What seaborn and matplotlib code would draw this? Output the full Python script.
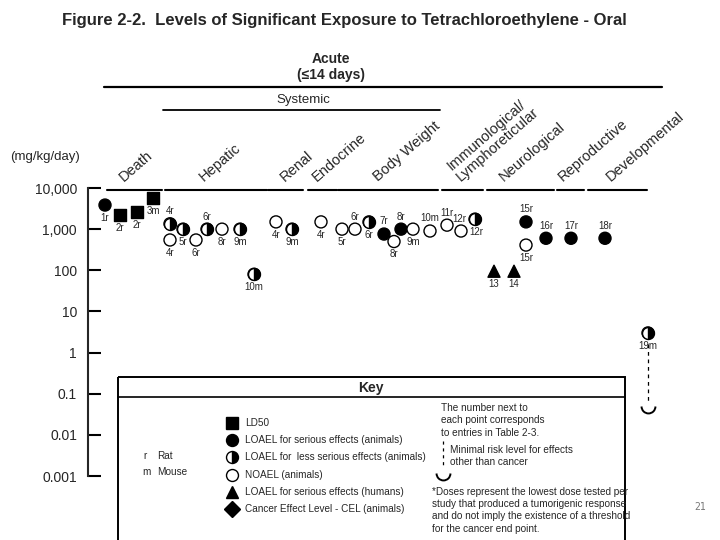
import numpy as np
import pandas as pd
import matplotlib
matplotlib.use("Agg")
import matplotlib.pyplot as plt
import matplotlib.transforms as mtransforms
from matplotlib.path import Path
from matplotlib.patches import Rectangle
import seaborn as sns

# ---- data ----
systems = ["Death", "Hepatic", "Renal", "Endocrine", "Body Weight",
           "Immunological/\nLymphoreticular", "Neurological", "Reproductive", "Developmental"]

point_system = ["Death"] * 4 + ["Hepatic"] * 8 + ["Renal"] * 2 + ["Endocrine"] + \
               ["Body Weight"] * 8 + ["Immunological/\nLymphoreticular"] * 3 + \
               ["Neurological"] * 5 + ["Reproductive"] + ["Developmental"] * 2
study = ["1r", "2r", "2r", "3m",
         "4r", "4r", "5r", "6r", "6r", "8r", "9m", "10m",
         "4r", "9m",
         "4r",
         "5r", "6r", "6r", "7r", "8r", "8r", "9m", "10m",
         "11r", "12r", "12r",
         "13", "14", "15r", "15r", "16r",
         "17r",
         "18r", "19m"]
effect = ["serious", "LD50", "LD50", "LD50",
          "less", "NOAEL", "less", "NOAEL", "less", "NOAEL", "less", "less",
          "NOAEL", "less",
          "NOAEL",
          "NOAEL", "NOAEL", "less", "serious", "NOAEL", "serious", "NOAEL", "NOAEL",
          "NOAEL", "NOAEL", "less",
          "human", "human", "serious", "NOAEL", "serious",
          "serious",
          "serious", "less"]
dose = [3850, 2200, 2600, 5700,
        1350, 545, 1000, 545, 1000, 1000, 1000, 80,
        1500, 1000,
        1500,
        1000, 1000, 1500, 760, 500, 1000, 1000, 900,
        1250, 900, 1750,
        95, 95, 1500, 410, 600,
        600,
        600, 3]
mrl_dose = 0.05
y_ticks = [0.001, 0.01, 0.1, 1, 10, 100, 1000, 10000]
y_ticklabels = ["0.001", "0.01", "0.1", "1", "10", "100", "1,000", "10,000"]

# ---- layout (column slots, 1 slot = 10 px, label placement) ----
slot = [1.7, 3.2, 4.9, 6.5,
        8.2, 8.2, 9.5, 10.8, 11.9, 13.4, 15.2, 16.6,
        18.8, 20.4,
        23.3,
        25.4, 26.7, 28.1, 29.6, 30.6, 31.3, 32.5, 34.2,
        35.9, 37.3, 38.7,
        40.6, 42.6, 43.8, 43.8, 45.8,
        48.3,
        51.7, 56.0]
label_pos = ["b", "b", "b", "b",
             "t", "b", "b", "b", "t", "b", "b", "b",
             "b", "b",
             "b",
             "b", "t", "b", "t", "b", "t", "b", "t",
             "t", "r", "l",
             "b", "b", "t", "b", "t",
             "t",
             "t", "b"]
sys_span = {"Death": (1.9, 7.4), "Hepatic": (7.7, 17.9), "Renal": (18.0, 21.5),
            "Endocrine": (22.0, 24.9), "Body Weight": (25.0, 35.0),
            "Immunological/\nLymphoreticular": (35.4, 39.5), "Neurological": (39.9, 46.6),
            "Reproductive": (46.9, 49.6), "Developmental": (50.0, 55.9)}
sys_label_x = {"Death": 126, "Hepatic": 206, "Renal": 287, "Endocrine": 319,
               "Body Weight": 380, "Immunological/\nLymphoreticular": 463,
               "Neurological": 506, "Reproductive": 565, "Developmental": 613}

df = pd.DataFrame({"system": point_system, "study": study, "effect": effect,
                   "dose": dose, "x": slot, "lab": label_pos})

sns.set_style("white")
plt.rcParams["font.family"] = ["Liberation Sans", "DejaVu Sans"]

W, H = 720, 540
fig = plt.figure(figsize=(7.2, 5.4), dpi=100)
ax = fig.add_axes([88 / W, 1 - 476 / H, (720 - 88) / W, (476 - 188) / H])
ax.set_yscale("log")
ax.set_ylim(1e-3, 1e4)
ax.set_xlim(0, 63.2)

face = {"LD50": "black", "serious": "black", "less": "white", "NOAEL": "white",
        "human": "black", "CEL": "black"}
shape = {"LD50": "s", "serious": "o", "less": "o", "NOAEL": "o", "human": "^", "CEL": "D"}
sns.scatterplot(data=df, x="x", y="dose", hue="effect", style="effect",
                palette=face, markers=shape, s=75, edgecolor="black", linewidth=1,
                legend=False, ax=ax, clip_on=False, zorder=3)
half = df[df.effect == "less"]
ax.plot(half.x, half.dose, linestyle="none", marker="o", ms=8.6, fillstyle="right",
        mfc="black", mfcalt="white", mec="black", mew=1, zorder=4, clip_on=False)

offs = {"t": ((0, 5.5), "center", "bottom"), "b": ((0, -5.5), "center", "top"),
        "r": ((6, -1), "left", "center"), "l": ((-6, 0), "right", "center")}
for _, r in df.iterrows():
    (dx, dy), ha, va = offs[r.lab]
    ax.annotate(r.study, (r.x, r.dose), xytext=(dx, dy), textcoords="offset points",
                ha=ha, va=va, fontsize=7)

# MRL dashed line + cup
mrl_x = df.x.iloc[-1]
ax.plot([mrl_x, mrl_x], [1.6, mrl_dose * 1.25], color="black", lw=0.9,
        linestyle=(0, (3, 3)), zorder=2)
ax.plot([mrl_x], [mrl_dose], marker=Path.arc(180, 360), ms=10, mfc="none",
        mec="black", mew=1.4, linestyle="none")

# axes styling
for s in ["top", "right", "bottom"]:
    ax.spines[s].set_visible(False)
ax.spines["left"].set_linewidth(1.5)
ax.set_yticks(y_ticks)
ax.set_yticklabels(y_ticklabels)
ax.yaxis.set_minor_locator(matplotlib.ticker.NullLocator())
ax.tick_params(axis="y", left=True, direction="in", length=9, width=1.5,
               labelsize=10, pad=8, color="black")
ax.set_xticks([])
ax.set_xlabel("")
ax.set_ylabel("")

# category header lines and rotated labels
bt = mtransforms.blended_transform_factory(ax.transData, fig.transFigure)
for name in systems:
    x0, x1 = sys_span[name]
    ax.plot([x0, x1], [1 - 190 / H] * 2, color="black", lw=1.5, transform=bt, clip_on=False)
    fig.text(sys_label_x[name] / W, 1 - 184 / H, name, rotation=41, rotation_mode="anchor",
             ha="left", va="bottom", fontsize=10.5, linespacing=1.0)

# overlay axes in pixel coords for headings and key
k = fig.add_axes([0, 0, 1, 1])
k.set_xlim(0, W)
k.set_ylim(H, 0)
k.axis("off")
k.patch.set_alpha(0)

k.text(62, 20, "Figure 2-2.  Levels of Significant Exposure to Tetrachloroethylene - Oral",
       fontsize=12, fontweight="bold", ha="left", va="center")
k.text(331, 59, "Acute", fontsize=10, fontweight="bold", ha="center", va="center")
k.text(331, 75, "(\u226414 days)", fontsize=10, fontweight="bold", ha="center", va="center")
k.plot([104, 662], [87, 87], color="black", lw=1.6)
k.text(303, 100, "Systemic", fontsize=9.5, ha="center", va="center")
k.plot([163, 440], [110, 110], color="black", lw=1.3)
k.text(10, 157, "(mg/kg/day)", fontsize=9.5, ha="left", va="center")

# key box
k.add_patch(Rectangle((118, 377), 625 - 118, 200, fill=False, lw=1.4, ec="black"))
k.plot([118, 625], [397, 397], color="black", lw=1.2)
k.text(371, 388, "Key", fontsize=10, fontweight="bold", ha="center", va="center")

key_rows = [("LD50", "LD50"), ("serious", "LOAEL for serious effects (animals)"),
            ("less", "LOAEL for  less serious effects (animals)"), ("NOAEL", "NOAEL (animals)"),
            ("human", "LOAEL for serious effects (humans)"),
            ("CEL", "Cancer Effect Level - CEL (animals)")]
for i, (eff, txt) in enumerate(key_rows):
    yy = 423 + i * 17.2
    if eff == "less":
        k.plot([232], [yy], marker="o", ms=8.6, fillstyle="right", mfc="black",
               mfcalt="white", mec="black", mew=1)
    else:
        k.plot([232], [yy], marker=shape[eff], ms=8.6 if eff != "CEL" else 8,
               mfc=face[eff], mec="black", mew=1)
    k.text(245, yy, txt, fontsize=7.2, ha="left", va="center")

k.text(143, 456, "r", fontsize=7.2, ha="left", va="center")
k.text(157, 456, "Rat", fontsize=7.2, ha="left", va="center")
k.text(142, 472, "m", fontsize=7.2, ha="left", va="center")
k.text(157, 472, "Mouse", fontsize=7.2, ha="left", va="center")

for i, t in enumerate(["The number next to", "each point corresponds", "to entries in Table 2-3."]):
    k.text(441, 408 + i * 12.3, t, fontsize=7.2, ha="left", va="center")
k.plot([443, 443], [441, 468], color="black", lw=0.9, linestyle=(0, (2.5, 3)))
k.plot([443], [473], marker=Path.arc(180, 360), ms=10, mfc="none", mec="black", mew=1.4)
k.text(450, 450, "Minimal risk level for effects", fontsize=7.2, ha="left", va="center")
k.text(450, 462, "other than cancer", fontsize=7.2, ha="left", va="center")
for i, t in enumerate(["*Doses represent the lowest dose tested per",
                       "study that produced a tumorigenic response",
                       "and do not imply the existence of a threshold",
                       "for the cancer end point."]):
    k.text(432, 492 + i * 12.2, t, fontsize=7.2, ha="left", va="center")

k.text(700, 507, "21", fontsize=7, color="#777777", family="DejaVu Sans Mono",
       ha="center", va="center")

fig.savefig("out.png", dpi=100)
